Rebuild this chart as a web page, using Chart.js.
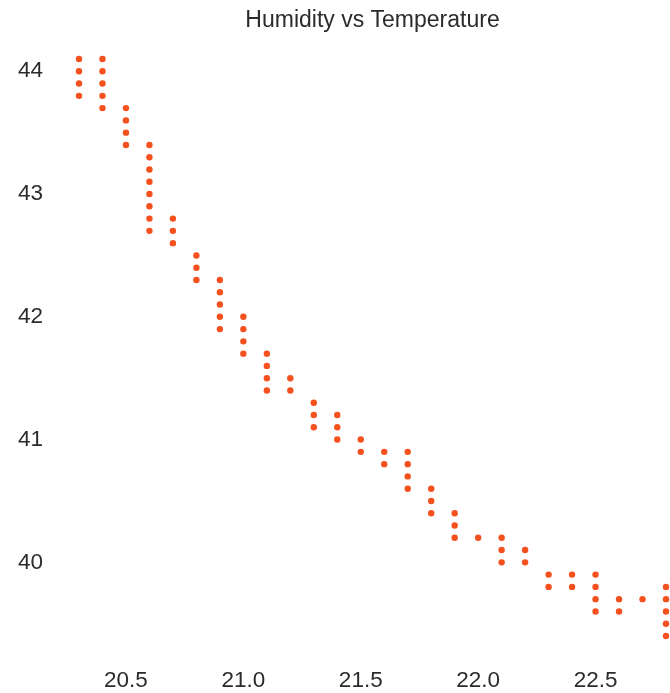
<!DOCTYPE html>
<html>
<head>
<meta charset="utf-8">
<title>Humidity vs Temperature</title>
<script src="https://cdn.jsdelivr.net/npm/chart.js@4"></script>
<style>
  html, body { margin: 0; padding: 0; background: #fff; }
  #wrap { width: 670px; height: 693px; }
</style>
</head>
<body>
<div id="wrap"><canvas id="myChart"></canvas></div>
<script>
// temperature steps and the humidity readings logged at each one
const tempSteps = [20.3, 20.4, 20.5, 20.6, 20.7, 20.8, 20.9, 21.0, 21.1, 21.2, 21.3, 21.4, 21.5,
    21.6, 21.7, 21.8, 21.9, 22.0, 22.1, 22.2, 22.3, 22.4, 22.5, 22.6, 22.7, 22.8];
const humidityReadings = [
    [44.1, 44.0, 43.9, 43.8],
    [44.1, 44.0, 43.9, 43.8, 43.7],
    [43.7, 43.6, 43.5, 43.4],
    [43.4, 43.3, 43.2, 43.1, 43.0, 42.9, 42.8, 42.7],
    [42.8, 42.7, 42.6],
    [42.5, 42.4, 42.3],
    [42.3, 42.2, 42.1, 42.0, 41.9],
    [42.0, 41.9, 41.8, 41.7],
    [41.7, 41.6, 41.5, 41.4],
    [41.5, 41.4],
    [41.3, 41.2, 41.1],
    [41.2, 41.1, 41.0],
    [41.0, 40.9],
    [40.9, 40.8],
    [40.9, 40.8, 40.7, 40.6],
    [40.6, 40.5, 40.4],
    [40.4, 40.3, 40.2],
    [40.2],
    [40.2, 40.1, 40.0],
    [40.1, 40.0],
    [39.9, 39.8],
    [39.9, 39.8],
    [39.9, 39.8, 39.7, 39.6],
    [39.7, 39.6],
    [39.7],
    [39.8, 39.7, 39.6, 39.5, 39.4]
];
const xTickValues = [20.5, 21.0, 21.5, 22.0, 22.5];
const yTickValues = [40, 41, 42, 43, 44];

const points = [];
tempSteps.forEach((t, i) => {
    humidityReadings[i].forEach(h => points.push({ x: t, y: h }));
});

const allTemps = points.map(p => p.x);
const allHum = points.map(p => p.y);

const textColor = '#2b2b2b';
const fontFamily = "'Liberation Sans', Arial, sans-serif";

const ctx = document.getElementById('myChart');

new Chart(ctx, {
    type: 'scatter',
    data: {
        datasets: [{
            label: 'Humidity',
            data: points,
            backgroundColor: '#f4511e',
            borderWidth: 0,
            pointRadius: 3.2,
            clip: false
        }]
    },
    options: {
        responsive: true,
        maintainAspectRatio: false,
        animation: false,
        layout: { padding: 0 },
        scales: {
            x: {
                type: 'linear',
                min: Math.min(...allTemps),
                max: Math.max(...allTemps),
                grid: { display: false, drawTicks: false },
                border: { display: false },
                afterBuildTicks: scale => {
                    scale.ticks = xTickValues.map(v => ({ value: v }));
                },
                afterFit: scale => { scale.height = 57; },
                ticks: {
                    color: textColor,
                    padding: 31,
                    maxRotation: 0,
                    font: { family: fontFamily, size: 22.5 },
                    callback: v => Number(v).toFixed(1)
                }
            },
            y: {
                type: 'linear',
                min: Math.min(...allHum),
                max: Math.max(...allHum),
                grid: { display: false, drawTicks: false },
                border: { display: false },
                afterBuildTicks: scale => {
                    scale.ticks = yTickValues.map(v => ({ value: v }));
                },
                afterFit: scale => { scale.width = 79; },
                ticks: {
                    color: textColor,
                    padding: 36,
                    font: { family: fontFamily, size: 22.5 },
                    callback: v => String(v)
                }
            }
        },
        plugins: {
            legend: { display: false },
            tooltip: { enabled: false },
            title: {
                display: true,
                fullSize: false,
                text: 'Humidity vs Temperature',
                color: textColor,
                font: { family: fontFamily, size: 23, weight: 'normal' },
                padding: { top: 6.5, bottom: 24.9 }
            }
        }
    }
});
</script>
</body>
</html>
